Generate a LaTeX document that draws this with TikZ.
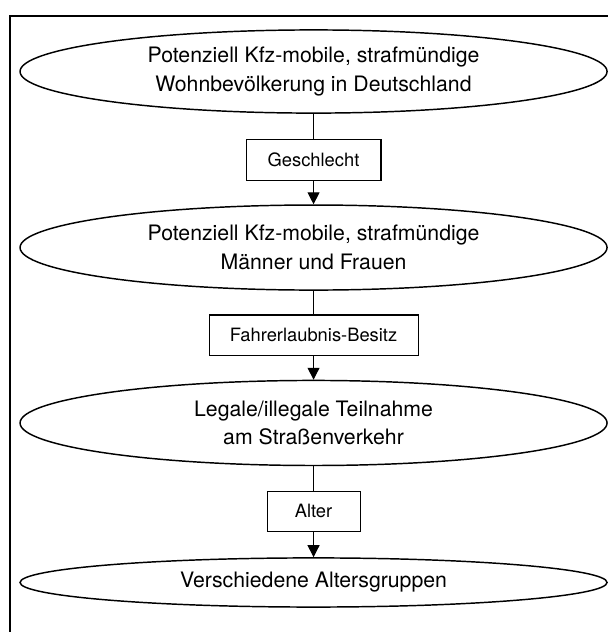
\documentclass[tikz,border=0pt]{standalone}
\usepackage{fontspec}
\setmainfont{TeX Gyre Heros}
\usepackage{tikz}
\usetikzlibrary{positioning, arrows.meta, shapes.geometric}

\begin{document}
\begin{tikzpicture}[
    >={Triangle[length=9pt, width=9pt]},
    font=\fontsize{16}{21.5}\selectfont,
    group/.style={draw, ellipse, line width=1.1pt, minimum width=15.53cm, inner sep=0pt, align=center},
    split/.style={draw, rectangle, line width=0.8pt, minimum height=1.06cm, font=\fontsize{13.8}{16}\selectfont},
    link/.style={line width=0.8pt}
]
\useasboundingbox (0,0) rectangle (16.09,-16.72);
% frame (cut off at the right and bottom)
\draw[link] (0.265,-16.72) -- (0.265,-0.423) -- (16.09,-0.423);

% groups and splitting criteria
\node[group, minimum height=2.2cm]  (pop)  at (8.295,-1.892)  {Potenziell Kfz-mobile, strafmündige\\Wohnbevölkerung in Deutschland};
\node[split, minimum width=3.57cm]  (sex)  at (8.295,-4.233)  {Geschlecht};
\node[group, minimum height=2.25cm] (mw)   at (8.295,-6.549)  {Potenziell Kfz-mobile, strafmündige\\Männer und Frauen};
\node[split, minimum width=5.53cm]  (lic)  at (8.295,-8.864)  {Fahrerlaubnis-Besitz};
\node[group, minimum height=2.25cm] (road) at (8.295,-11.19)  {Legale/illegale Teilnahme\\am Straßenverkehr};
\node[split, minimum width=2.46cm]  (age)  at (8.295,-13.53)  {Alter};
\node[group, minimum height=1.3cm]  (ages) at (8.295,-15.41)  {Verschiedene Altersgruppen};

% connectors
\foreach \a/\b/\c in {pop/sex/mw, mw/lic/road, road/age/ages} {
    \draw[link] (\a) -- (\b);
    \draw[link, ->] (\b) -- (\c);
}
\end{tikzpicture}
\end{document}
